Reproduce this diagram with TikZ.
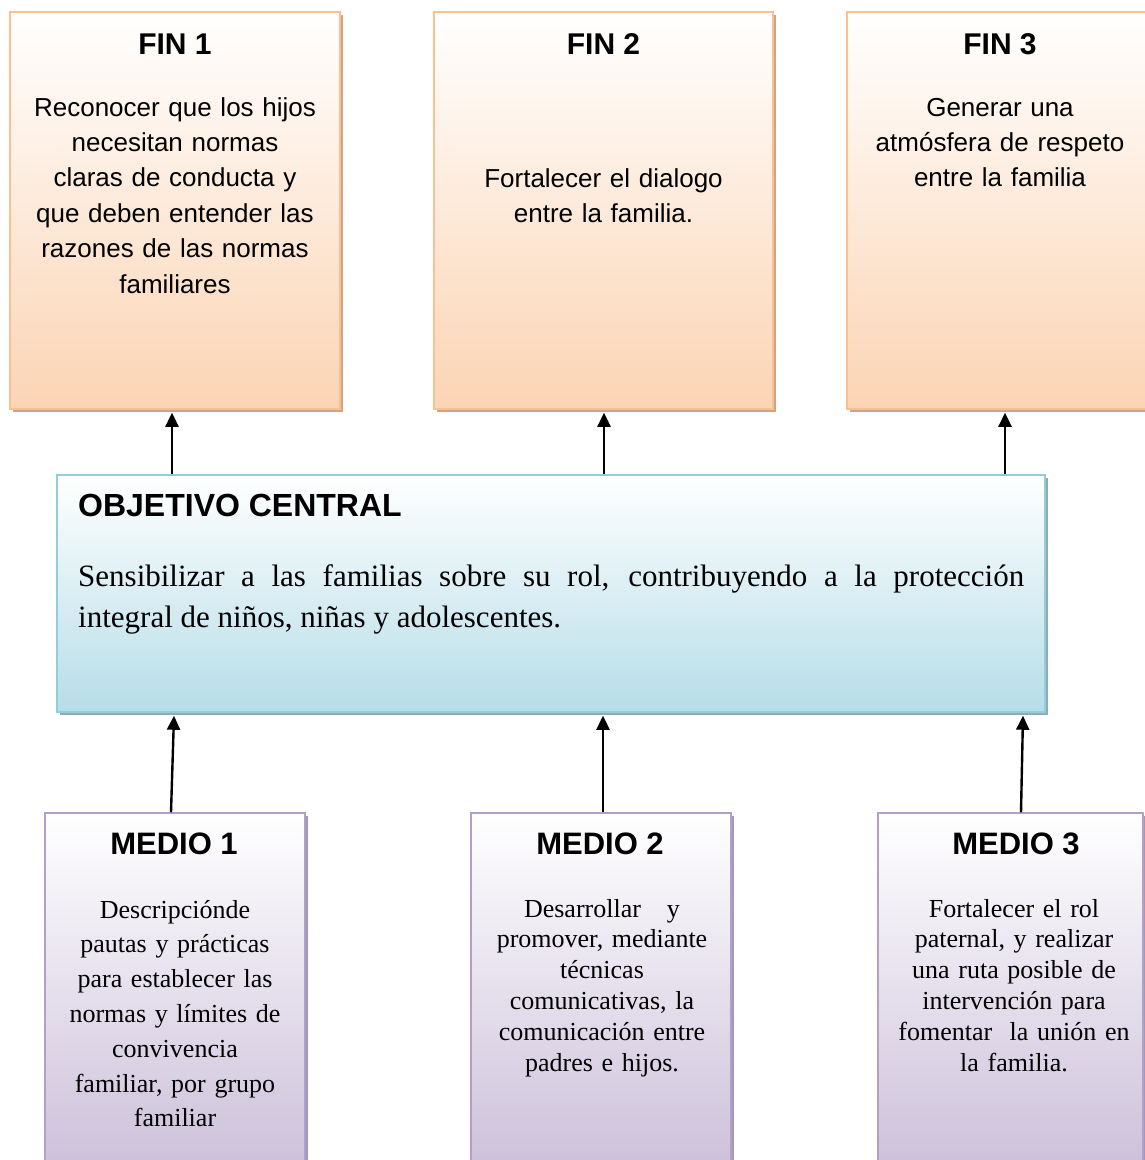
\documentclass[tikz,border=0pt]{standalone}
\usepackage{fontspec}
\setmainfont{Liberation Serif}
\setsansfont{Liberation Sans}
\usetikzlibrary{arrows.meta,shadows}

\definecolor{finfill}{HTML}{FBD4B4}
\definecolor{finline}{HTML}{FAC090}
\definecolor{finshade}{HTML}{CFA384}
\definecolor{objfill}{HTML}{B6DDE8}
\definecolor{objline}{HTML}{92CDDC}
\definecolor{objshade}{HTML}{8FABB5}
\definecolor{medfill}{HTML}{CCC0DA}
\definecolor{medline}{HTML}{B2A1C7}
\definecolor{medshade}{HTML}{A597B8}

\tikzset{
	box/.style={inner sep=0pt, line width=1.5pt},
	finbox/.style={box, draw=finline, top color=white, bottom color=finfill,
		minimum height=397pt,
		drop shadow={shadow xshift=3pt, shadow yshift=-3pt, fill=finshade, opacity=1}},
	objbox/.style={box, draw=objline, top color=white, bottom color=objfill,
		minimum width=988pt, minimum height=237pt,
		drop shadow={shadow xshift=3pt, shadow yshift=-3pt, fill=objshade, opacity=1}},
	medbox/.style={box, draw=medline, top color=white, bottom color=medfill,
		minimum height=357pt,
		drop shadow={shadow xshift=3pt, shadow yshift=-3pt, fill=medshade, opacity=1}},
	fintitle/.style={anchor=base, inner sep=0pt, font=\sffamily\bfseries\fontsize{30}{36}\selectfont},
	medtitle/.style={anchor=base, inner sep=0pt, font=\sffamily\bfseries\fontsize{31}{37}\selectfont},
	finbody/.style={anchor=base, align=center, text width=320pt, inner sep=0pt,
		font=\sffamily\fontsize{26}{35.4}\selectfont},
	medbody/.style={anchor=base, align=center, text width=255pt, inner sep=0pt,
		font=\fontsize{26}{30.8}\selectfont},
	arr/.style={line width=2.4pt, -{Triangle[length=14pt,width=13pt]}}
}

\begin{document}
\begin{tikzpicture}[x=1pt,y=-1pt]
	%%%%% START %%%%%
	\useasboundingbox (0,0) rectangle (1144,1160);
	
	% fines
	\node[finbox, minimum width=330pt] (fin1) at (175,210.5) {};
	\node[finbox, minimum width=339pt] (fin2) at (603.5,210.5) {};
	\node[finbox, minimum width=306pt] (fin3) at (1000,210.5) {};
	
	\node[fintitle] (fin1t) at (175,54) {FIN 1};
	\node[fintitle] (fin2t) at (603.5,54) {FIN 2};
	\node[fintitle] (fin3t) at (1000,54) {FIN 3};
	
	\node[finbody] (fin1b) at (175,116) {Reconocer que los hijos\\ necesitan normas\\ claras de conducta y\\ que deben entender las\\ razones de las normas\\ familiares};
	\node[finbody] (fin2b) at (603.5,187) {Fortalecer el dialogo\\ entre la familia.};
	\node[finbody] (fin3b) at (1000,116) {Generar una\\ atmósfera de respeto\\ entre la familia};
	
	% objetivo central
	\node[objbox] (obj) at (551,593.5) {};
	\node[anchor=base west, inner sep=0pt, font=\sffamily\bfseries\fontsize{32}{38}\selectfont] (objt) at (78,516) {OBJETIVO CENTRAL};
	\node[anchor=base west, text width=946pt, align=justify, inner sep=0pt,
		font=\fontsize{31}{41}\selectfont] (objb) at (78,586)
		{Sensibilizar a las familias sobre su rol, contribuyendo a la protección\linebreak integral de niños, niñas y adolescentes.};
	
	% medios
	\node[medbox, minimum width=260pt] (med1) at (175,991.5) {};
	\node[medbox, minimum width=260pt] (med2) at (601,991.5) {};
	\node[medbox, minimum width=265pt] (med3) at (1010.5,991.5) {};
	
	\node[medtitle] (med1t) at (174,854) {MEDIO 1};
	\node[medtitle] (med2t) at (600,854) {MEDIO 2};
	\node[medtitle] (med3t) at (1016,854) {MEDIO 3};
	
	\node[medbody, font=\fontsize{26}{34.8}\selectfont] (med1b) at (175,918) {Descripciónde\\ pautas y prácticas\\ para establecer las\\ normas y límites de\\ convivencia\\ familiar, por grupo\\ familiar};
	\node[medbody] (med2b) at (602,917) {Desarrollar~~ y\\ promover, mediante\\ técnicas\\ comunicativas, la\\ comunicación entre\\ padres e hijos.};
	\node[medbody] (med3b) at (1014,917) {Fortalecer el rol\\ paternal, y realizar\\ una ruta posible de\\ intervención para\\ fomentar~ la unión en\\ la familia.};
	
	% flechas
	\draw[arr] ([xshift=-3pt]fin1.south |- obj.north) -- ([xshift=-3pt,yshift=-3pt]fin1.south);
	\draw[arr] ([xshift=0.5pt]fin2.south |- obj.north) -- ([xshift=0.5pt,yshift=-3pt]fin2.south);
	\draw[arr] ([xshift=5pt]fin3.south |- obj.north) -- ([xshift=5pt,yshift=-3pt]fin3.south);
	
	\draw[arr] ([xshift=-4pt]med1.north) -- ([xshift=-1pt,yshift=-3pt]med1.north |- obj.south);
	\draw[arr] ([xshift=2pt]med2.north) -- ([xshift=2pt,yshift=-3pt]med2.north |- obj.south);
	\draw[arr] ([xshift=10.5pt]med3.north) -- ([xshift=12.5pt,yshift=-3pt]med3.north |- obj.south);
	%%%%% END %%%%%
\end{tikzpicture}
\end{document}
